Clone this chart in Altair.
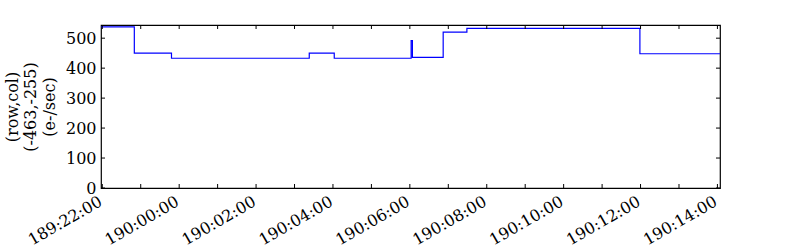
import altair as alt
import pandas as pd

# step start times (UTC) and values (e-/sec)
step_times = [
    "2010-07-08T21:58:00Z", "2010-07-08T22:50:00Z", "2010-07-08T23:48:00Z",
    "2010-07-09T03:23:00Z", "2010-07-09T04:02:00Z", "2010-07-09T06:02:00Z",
    "2010-07-09T06:04:00Z", "2010-07-09T06:52:00Z", "2010-07-09T07:29:00Z",
    "2010-07-09T11:59:00Z", "2010-07-09T14:04:00Z",
]
step_values = [538, 450, 433, 450, 433, 492, 436, 520, 533, 448, 448]

# axis ticks
x_tick_times = pd.date_range("2010-07-08T22:00:00Z", "2010-07-09T14:00:00Z", freq="1h")
x_label_times = pd.date_range("2010-07-08T22:00:00Z", "2010-07-09T14:00:00Z", freq="2h")
y_tick_values = [0, 100, 200, 300, 400, 500]
y_max = 544

W, H = 619, 163
FONT = "DejaVu Serif"
FS = 16

df = pd.DataFrame({"t": step_times, "v": step_values})
xt = pd.DataFrame({"t": [d.strftime("%Y-%m-%dT%H:%M:%SZ") for d in x_tick_times]})
yt = pd.DataFrame({"v": y_tick_values})
label_ms = [int(d.timestamp() * 1000) for d in x_label_times]

xscale = alt.Scale(nice=False)
yscale = alt.Scale(domain=[0, y_max], nice=False)

line = alt.Chart(df).mark_line(interpolate="step-after", color="#0000ff", strokeWidth=1.2).encode(
    x=alt.X("t:T", scale=xscale, title=None,
            axis=alt.Axis(values=label_ms, labelExpr="utcFormat(datum.value, '%j:%H:%M')",
                          labelAngle=330, labelAlign="right", labelBaseline="top",
                          labelPadding=5, labelOffset=-6)),
    y=alt.Y("v:Q", scale=yscale,
            title=["(row,col)", "(-463,-255)", "(e-/sec)"],
            axis=alt.Axis(values=y_tick_values, labelPadding=5,
                          titlePadding=8, titleLineHeight=18.5)),
)

xt_bottom = alt.Chart(xt).mark_rule(color="black", strokeWidth=1).encode(
    x=alt.X("t:T", scale=xscale, axis=None), y=alt.value(H), y2=alt.value(H - 4))
xt_top = alt.Chart(xt).mark_rule(color="black", strokeWidth=1).encode(
    x=alt.X("t:T", scale=xscale, axis=None), y=alt.value(0), y2=alt.value(4))
yt_left = alt.Chart(yt).mark_rule(color="black", strokeWidth=1).encode(
    y=alt.Y("v:Q", scale=yscale, axis=None), x=alt.value(0), x2=alt.value(4))
yt_right = alt.Chart(yt).mark_rule(color="black", strokeWidth=1).encode(
    y=alt.Y("v:Q", scale=yscale, axis=None), x=alt.value(W - 4), x2=alt.value(W))

chart = alt.layer(line, xt_bottom, xt_top, yt_left, yt_right).resolve_axis(
    x="independent", y="independent"
).properties(
    width=W, height=H,
    autosize=alt.AutoSizeParams(type="none"),
    padding={"left": 101, "top": 25, "right": 80, "bottom": 62},
    background="white",
).configure_view(stroke="black", strokeWidth=1.2).configure_axis(
    ticks=False, domain=False, grid=False,
    labelFont=FONT, labelFontSize=FS, labelColor="black",
    labelOverlap=False, labelFlush=False,
    titleFont=FONT, titleFontSize=FS, titleFontWeight="normal", titleColor="black",
)

chart.save("out.html", embed_options={"renderer": "svg", "actions": False})
